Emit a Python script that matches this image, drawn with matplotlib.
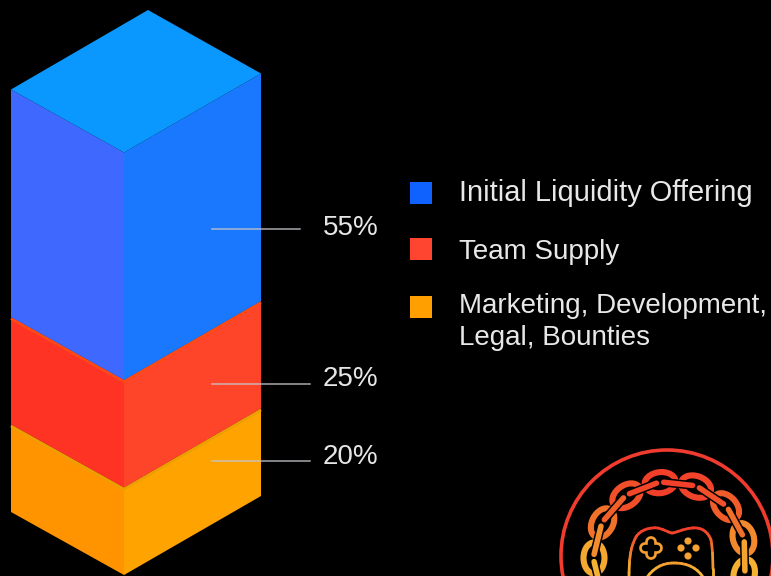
import numpy as np
import matplotlib
matplotlib.use('Agg')
import matplotlib.pyplot as plt
from matplotlib.patches import Polygon, Rectangle, Circle, Ellipse
from matplotlib.path import Path
from matplotlib.collections import LineCollection
from matplotlib.colors import LinearSegmentedColormap

# token allocation
shares = [55, 25, 20]
share_labels = ['55%', '25%', '20%']
legend_labels = ['Initial Liquidity Offering', 'Team Supply', 'Marketing, Development,\nLegal, Bounties']

# face colours per block: left, right, top lip
left_colors = ['#3f68ff', '#ff3324', '#ff9400']
right_colors = ['#1a78ff', '#ff4529', '#ffa300']
lip_colors = ['#1a78ff', '#ff4a14', '#eba000']
legend_colors = ['#0f62fe', '#ff4530', '#ff9f00']

plt.rcParams['font.family'] = ['Liberation Sans', 'DejaVu Sans']

fig = plt.figure(figsize=(7.71, 5.76), dpi=100, facecolor='black')
ax = fig.add_axes([0, 0, 1, 1])
ax.set_xlim(0, 771)
ax.set_ylim(576, 0)
ax.axis('off')

# isometric column geometry, in pixels
x_left, x_mid, x_right = 11, 124, 261
rise_left, rise_right = 63, 79
base_y = 575
per_cent = 4.0
plate = 7.5

# stack from the bottom up so the upper block covers the lip below it
y = base_y
tops = {}
for i in reversed(range(len(shares))):
    top = y - (per_cent * shares[i] + plate)
    tops[i] = (top, y)
    ax.add_patch(Polygon([(x_left, top - rise_left), (x_mid, top), (x_mid, y), (x_left, y - rise_left)],
                         facecolor=left_colors[i], edgecolor='none', zorder=2 + (2 - i)))
    ax.add_patch(Polygon([(x_mid, top), (x_right, top - rise_right), (x_right, y - rise_right), (x_mid, y)],
                         facecolor=right_colors[i], edgecolor='none', zorder=2 + (2 - i)))
    if i > 0:
        ax.plot([x_left, x_mid, x_right], [top - rise_left + 1.5, top + 1.5, top - rise_right + 1.5],
                color=lip_colors[i], lw=2.0, solid_joinstyle='miter', solid_capstyle='butt',
                zorder=2.5 + (2 - i))
    y = top

# top face of the blue block
top0 = tops[0][0]
ax.add_patch(Polygon([(x_left, top0 - rise_left), (x_mid, top0), (x_right, top0 - rise_right), (148, 10)],
                     facecolor='#0a98ff', edgecolor='none', zorder=6))

# leader lines and percentages
line_ends = [300, 310, 310]
line_y = [229, 384, 461]
text_y = [228, 379, 457]
for i in range(len(shares)):
    ax.plot([212, line_ends[i]], [line_y[i], line_y[i]], color='#c4c4cc', lw=1.1, alpha=0.85, zorder=7)
    ax.text(323, text_y[i], share_labels[i], color='#e6e6e6', fontsize=20, ha='left', va='center', zorder=7)

# legend
square_y = [182, 238, 296]
legend_y = [193, 252, 322]
legend_sizes = [20.9, 20, 20]
for i in range(len(legend_labels)):
    ax.add_patch(Rectangle((410, square_y[i]), 22, 22, facecolor=legend_colors[i], edgecolor='none'))
    ax.text(459, legend_y[i], legend_labels[i], color='#e8e8e8', fontsize=legend_sizes[i], ha='left', va='center',
            linespacing=1.34)

# round game-chain badge, bottom right
cx, cy = 670, 558
badge_cmap = LinearSegmentedColormap.from_list('badge', ['#f23c2a', '#f0702a', '#f5b232'])
def badge_color(py, low=480, span=85):
    return badge_cmap(np.clip((py - low) / span, 0, 1))

ax.add_patch(Circle((667, 556), 106, facecolor='none', edgecolor='#f03c2e', lw=2.6, zorder=8))

ring_r = 76
link_angles = [-117.5, -90, -62.5, -35, -7.5, 20, 47.5, 75, 102.5, 130]
for a in link_angles:
    t = np.radians(a)
    px, py = cx + ring_r * np.sin(t), cy - ring_r * np.cos(t)
    ax.add_patch(Ellipse((px, py), 31, 21, angle=a, facecolor='none',
                         edgecolor=badge_color(py), lw=4.4, zorder=9))

for a in np.array(link_angles[:-1]) + 13.75:
    t = np.radians(a)
    half = np.radians(11)
    xs = cx + ring_r * np.sin([t - half, t + half])
    ys = cy - ring_r * np.cos([t - half, t + half])
    ax.plot(xs, ys, color='black', lw=6.2, solid_capstyle='round', zorder=10)
    ax.plot(xs, ys, color=badge_color(ys.mean()), lw=4.0, solid_capstyle='round', zorder=11)

# controller outline, coloured by height
verts = [(629, 580), (629, 560), (630, 548), (636, 537), (640, 530), (650, 527), (658, 528),
         (665, 530), (670, 533), (672, 533), (676, 533), (682, 529), (692, 528),
         (702, 527), (708, 532), (711, 540), (713, 550), (713, 565), (713, 580)]
codes = [Path.MOVETO] + [Path.CURVE4] * 18
pts = Path(verts, codes).to_polygons(closed_only=False)[0]
arc = Path([(645, 580), (653, 568), (662, 563), (674, 563), (688, 563), (698, 568), (705, 580)],
           [Path.MOVETO] + [Path.CURVE4] * 6).to_polygons(closed_only=False)[0]
for p in [pts, arc]:
    segs = np.stack([p[:-1], p[1:]], axis=1)
    ax.add_collection(LineCollection(segs, colors=[badge_color(s[:, 1].mean(), 528, 42) for s in segs],
                                     linewidths=2, capstyle='round', zorder=9))

# d-pad: a thick rounded plus with a black core leaves only the outline
for lw, col, z in [(8.5, '#f4a030', 9), (4.6, 'black', 9.1)]:
    ax.plot([644.5, 656.5], [548, 548], color=col, lw=lw, solid_capstyle='round', zorder=z)
    ax.plot([650.5, 650.5], [542, 554], color=col, lw=lw, solid_capstyle='round', zorder=z)

# action buttons
for bx, by in [(688, 541), (681, 548), (696, 548), (688, 556)]:
    ax.add_patch(Circle((bx, by), 3.6, facecolor='#f4a032', edgecolor='none', zorder=9))

fig.savefig('out.png', dpi=100, facecolor='black')
